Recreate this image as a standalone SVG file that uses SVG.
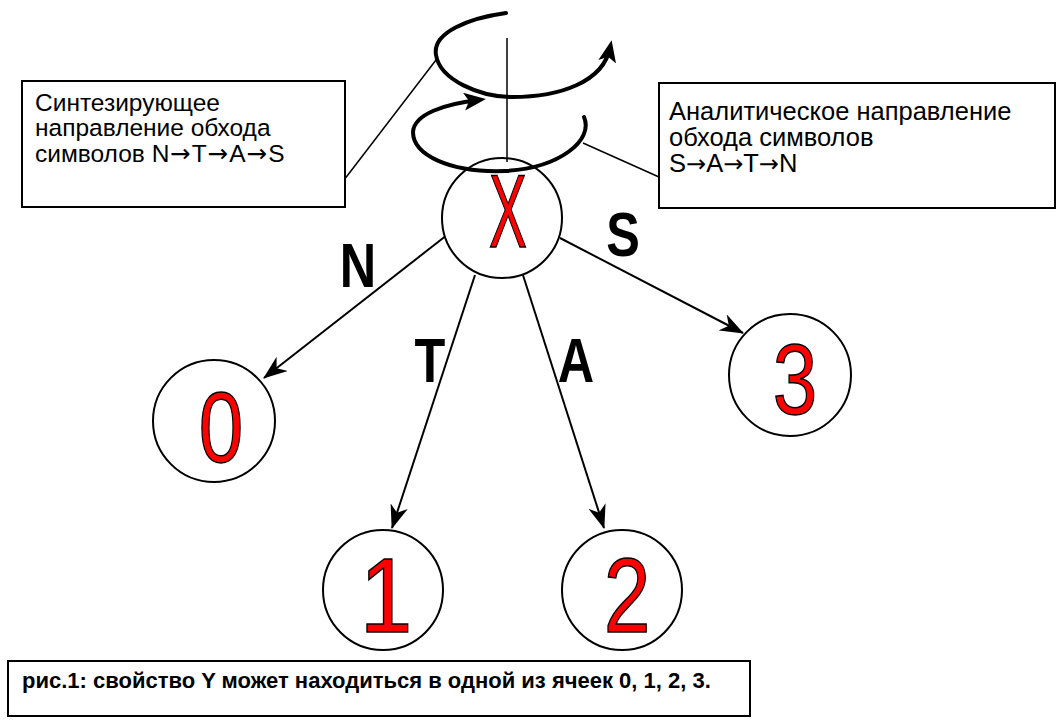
<svg xmlns="http://www.w3.org/2000/svg" width="1058" height="720" viewBox="0 0 1058 720">
  <style>
    .box { fill: #ffffff; stroke: #000000; stroke-width: 2; }
    .node { fill: #ffffff; stroke: #000000; stroke-width: 2; }
    .digit { font-family: "Liberation Sans", Arial, sans-serif; fill: #ff0000; stroke: #000000; stroke-width: 1.5; text-anchor: middle; }
    .edge { fill: none; stroke: #000000; stroke-width: 2; marker-end: url(#arrow); }
    .spiral { fill: none; stroke: #000000; stroke-width: 4; stroke-linecap: round; marker-end: url(#arrowBig); }
    .thin { fill: none; stroke: #000000; stroke-width: 1.5; }
    .label { font-family: "Liberation Sans", Arial, sans-serif; font-weight: bold; font-size: 63px; fill: #000000; text-anchor: middle; }
    .note { font-family: "Liberation Sans", Arial, sans-serif; fill: #000000; }
    .arr { font-family: "DejaVu Sans", sans-serif; }
    .caption { font-family: "Liberation Sans", Arial, sans-serif; font-weight: bold; font-size: 22px; fill: #000000; }
  </style>
  <defs>
    <marker id="arrow" markerUnits="userSpaceOnUse" markerWidth="24" markerHeight="18" viewBox="0 0 24 18" refX="23" refY="9" orient="auto">
      <path d="M0,0 L24,9 L0,18 L7,9 z" fill="#000000"/>
    </marker>
    <marker id="arrowBig" markerUnits="userSpaceOnUse" markerWidth="22" markerHeight="18" viewBox="0 0 22 18" refX="14" refY="9" orient="auto">
      <path d="M0,0 L22,9 L0,18 L5,9 z" fill="#000000"/>
    </marker>
  </defs>

  <rect width="1058" height="720" fill="#ffffff"/>

  <!-- connectors -->
  <g id="connectors">
    <line class="edge" x1="447" y1="235" x2="264" y2="378"/>
    <line class="edge" x1="475" y1="275" x2="392" y2="528"/>
    <line class="edge" x1="522" y1="272" x2="604" y2="528"/>
    <line class="edge" x1="560" y1="238" x2="743" y2="333"/>
    <text class="label" transform="translate(358,287) scale(0.8,1)">N</text>
    <text class="label" transform="translate(430,382) scale(0.8,1)">T</text>
    <text class="label" transform="translate(576,382) scale(0.8,1)">A</text>
    <text class="label" transform="translate(623,256) scale(0.8,1)">S</text>
  </g>

  <!-- tree nodes -->
  <g id="node-x">
    <circle class="node" cx="502" cy="218" r="60"/>
    <text class="digit" font-size="103" transform="translate(508,247) scale(0.55,1)">X</text>
  </g>
  <g id="node-0">
    <circle class="node" cx="214" cy="421" r="61"/>
    <text class="digit" font-size="100" transform="translate(221,462) scale(0.8,1)">0</text>
  </g>
  <g id="node-1">
    <circle class="node" cx="383" cy="590" r="60"/>
    <text class="digit" font-size="105" transform="translate(386,632) scale(0.9,1)">1</text>
  </g>
  <g id="node-2">
    <circle class="node" cx="622" cy="590" r="60"/>
    <text class="digit" font-size="105" transform="translate(627,632) scale(0.8,1)">2</text>
  </g>
  <g id="node-3">
    <circle class="node" cx="790" cy="375" r="61"/>
    <text class="digit" font-size="100" transform="translate(795,414) scale(0.8,1)">3</text>
  </g>

  <!-- rotation axis and traversal spirals, drawn over the root node -->
  <g id="axis">
    <line class="thin" x1="507" y1="38" x2="507" y2="162"/>
    <path class="spiral" d="M506,13 C470,18 432,32 436,55 C440,80 480,97 512,97 C560,97 603,82 610,48"/>
    <path class="spiral" d="M584,117 C594,140 560,168 505,171 C450,173 413,155 413,132 C414,114 445,104 478,100"/>
  </g>

  <!-- callouts -->
  <g id="note-synth">
    <line class="thin" x1="344" y1="180" x2="436" y2="60"/>
    <rect class="box" x="22" y="81" width="323" height="126"/>
    <text class="note" font-size="24.5" x="35" y="111">Синтезирующее</text>
    <text class="note" font-size="24.5" x="35" y="136">направление обхода</text>
    <text class="note" font-size="24.5" x="35" y="162">символов N<tspan class="arr" dx="1">→</tspan><tspan dx="1">T</tspan><tspan class="arr" dx="1">→</tspan><tspan dx="1">A</tspan><tspan class="arr" dx="1">→</tspan><tspan dx="1">S</tspan></text>
  </g>
  <g id="note-anal">
    <line class="thin" x1="583" y1="143" x2="659" y2="177"/>
    <rect class="box" x="659" y="83" width="396" height="125"/>
    <text class="note" font-size="25.5" x="669" y="120">Аналитическое направление</text>
    <text class="note" font-size="25.5" x="669" y="146">обхода символов</text>
    <text class="note" font-size="25.5" x="669" y="172">S<tspan class="arr" font-size="24">→</tspan>A<tspan class="arr" font-size="24">→</tspan>T<tspan class="arr" font-size="24">→</tspan>N</text>
  </g>

  <g id="caption">
    <rect class="box" x="8" y="661" width="742" height="55"/>
    <text class="caption" x="22" y="688">рис.1: свойство Y может находиться в одной из ячеек 0, 1, 2, 3.</text>
  </g>
</svg>
